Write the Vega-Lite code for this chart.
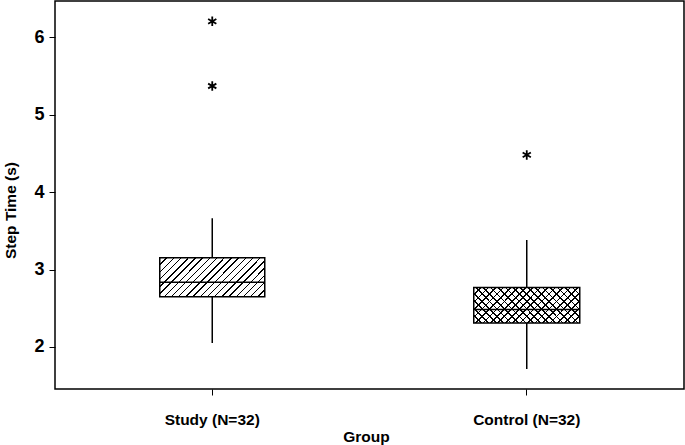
{
  "$schema": "https://vega.github.io/schema/vega-lite/v6.json",
  "width": 629,
  "height": 388,
  "autosize": {"type": "none"},
  "padding": {"left": 55, "top": 1, "right": 1, "bottom": 56},
  "background": "white",
  "config": {
    "view": {"stroke": "black", "strokeWidth": 1.5},
    "axis": {"grid": false, "domain": false, "tickColor": "black", "tickSize": 6, "tickWidth": 1, "labelColor": "black", "titleColor": "black"}
  },
  "datasets": {
    "stats": [
      {"group": "Study (N=32)", "lower": 2.052, "q1": 2.647, "median": 2.834, "q3": 3.152, "upper": 3.662},
      {"group": "Control (N=32)", "lower": 1.715, "q1": 2.311, "median": 2.484, "q3": 2.769, "upper": 3.381}
    ],
    "outliers": [
      {"group": "Study (N=32)", "value": 6.203},
      {"group": "Study (N=32)", "value": 5.368},
      {"group": "Control (N=32)", "value": 4.479}
    ]
  },
  "encoding": {
    "x": {
      "field": "group", "type": "nominal", "sort": ["Study (N=32)", "Control (N=32)"],
      "scale": {"paddingInner": 0, "paddingOuter": 0},
      "axis": {"title": "Group", "labelAngle": 0, "labelFont": "Liberation Sans", "labelFontWeight": "bold", "labelFontSize": 15.5, "labelBaseline": "alphabetic", "labelPadding": 29.5,
               "titleFont": "Liberation Sans", "titleFontWeight": "bold", "titleFontSize": 15.5, "titleX": 311, "titleY": 52.7, "titleAlign": "center", "titleBaseline": "alphabetic"}
    }
  },
  "layer": [
    {
      "data": {"name": "stats"},
      "mark": {"type": "rule", "stroke": "black", "strokeWidth": 1.5},
      "encoding": {
        "y": {"field": "lower", "type": "quantitative",
              "scale": {"domain": [1.458, 6.465], "nice": false, "zero": false},
              "axis": {"values": [2, 3, 4, 5, 6], "format": "d", "title": "Step Time (s)", "labelFont": "Liberation Sans", "labelFontWeight": "bold", "labelFontSize": 18, "labelPadding": 5,
                       "titleFont": "Liberation Sans", "titleFontWeight": "bold", "titleFontSize": 15.5, "titleAngle": -90, "titleX": -40, "titleY": 209, "titleAlign": "center", "titleBaseline": "alphabetic"}},
        "y2": {"field": "upper"}
      }
    },
    {
      "data": {"name": "stats"},
      "transform": [{"filter": "datum.group === 'Study (N=32)'"}],
      "mark": {"type": "bar", "size": 105, "stroke": "black", "strokeWidth": 1.5,
        "fill": {"gradient": "linear", "x1": 0, "y1": 0, "x2": 1.205, "y2": 0.4476, "stops": [
          {"offset": 0, "color": "#fff"},
          {"offset": 0.045, "color": "#fff"}, {"offset": 0.045, "color": "#000"}, {"offset": 0.055, "color": "#000"}, {"offset": 0.055, "color": "#fff"},
          {"offset": 0.095, "color": "#fff"}, {"offset": 0.095, "color": "#000"}, {"offset": 0.105, "color": "#000"}, {"offset": 0.105, "color": "#fff"},
          {"offset": 0.145, "color": "#fff"}, {"offset": 0.145, "color": "#000"}, {"offset": 0.155, "color": "#000"}, {"offset": 0.155, "color": "#fff"},
          {"offset": 0.195, "color": "#fff"}, {"offset": 0.195, "color": "#000"}, {"offset": 0.205, "color": "#000"}, {"offset": 0.205, "color": "#fff"},
          {"offset": 0.245, "color": "#fff"}, {"offset": 0.245, "color": "#000"}, {"offset": 0.255, "color": "#000"}, {"offset": 0.255, "color": "#fff"},
          {"offset": 0.295, "color": "#fff"}, {"offset": 0.295, "color": "#000"}, {"offset": 0.305, "color": "#000"}, {"offset": 0.305, "color": "#fff"},
          {"offset": 0.345, "color": "#fff"}, {"offset": 0.345, "color": "#000"}, {"offset": 0.355, "color": "#000"}, {"offset": 0.355, "color": "#fff"},
          {"offset": 0.395, "color": "#fff"}, {"offset": 0.395, "color": "#000"}, {"offset": 0.405, "color": "#000"}, {"offset": 0.405, "color": "#fff"},
          {"offset": 0.445, "color": "#fff"}, {"offset": 0.445, "color": "#000"}, {"offset": 0.455, "color": "#000"}, {"offset": 0.455, "color": "#fff"},
          {"offset": 0.495, "color": "#fff"}, {"offset": 0.495, "color": "#000"}, {"offset": 0.505, "color": "#000"}, {"offset": 0.505, "color": "#fff"},
          {"offset": 0.545, "color": "#fff"}, {"offset": 0.545, "color": "#000"}, {"offset": 0.555, "color": "#000"}, {"offset": 0.555, "color": "#fff"},
          {"offset": 0.595, "color": "#fff"}, {"offset": 0.595, "color": "#000"}, {"offset": 0.605, "color": "#000"}, {"offset": 0.605, "color": "#fff"},
          {"offset": 0.645, "color": "#fff"}, {"offset": 0.645, "color": "#000"}, {"offset": 0.655, "color": "#000"}, {"offset": 0.655, "color": "#fff"},
          {"offset": 0.695, "color": "#fff"}, {"offset": 0.695, "color": "#000"}, {"offset": 0.705, "color": "#000"}, {"offset": 0.705, "color": "#fff"},
          {"offset": 0.745, "color": "#fff"}, {"offset": 0.745, "color": "#000"}, {"offset": 0.755, "color": "#000"}, {"offset": 0.755, "color": "#fff"},
          {"offset": 0.795, "color": "#fff"}, {"offset": 0.795, "color": "#000"}, {"offset": 0.805, "color": "#000"}, {"offset": 0.805, "color": "#fff"},
          {"offset": 0.845, "color": "#fff"}, {"offset": 0.845, "color": "#000"}, {"offset": 0.855, "color": "#000"}, {"offset": 0.855, "color": "#fff"},
          {"offset": 0.895, "color": "#fff"}, {"offset": 0.895, "color": "#000"}, {"offset": 0.905, "color": "#000"}, {"offset": 0.905, "color": "#fff"},
          {"offset": 0.945, "color": "#fff"}, {"offset": 0.945, "color": "#000"}, {"offset": 0.955, "color": "#000"}, {"offset": 0.955, "color": "#fff"},
          {"offset": 1, "color": "#fff"}
        ]}
      },
      "encoding": {
        "y": {"field": "q1", "type": "quantitative"},
        "y2": {"field": "q3"}
      }
    },
    {
      "data": {"name": "stats"},
      "transform": [{"filter": "datum.group === 'Control (N=32)'"}],
      "mark": {"type": "bar", "size": 106, "strokeWidth": 0,
        "fill": {"gradient": "linear", "x1": 0, "y1": 0, "x2": 1.2, "y2": 0.4, "stops": [
          {"offset": 0, "color": "#fff"},
          {"offset": 0.0466, "color": "#fff"}, {"offset": 0.0466, "color": "#000"}, {"offset": 0.0586, "color": "#000"}, {"offset": 0.0586, "color": "#fff"},
          {"offset": 0.0993, "color": "#fff"}, {"offset": 0.0993, "color": "#000"}, {"offset": 0.1113, "color": "#000"}, {"offset": 0.1113, "color": "#fff"},
          {"offset": 0.1519, "color": "#fff"}, {"offset": 0.1519, "color": "#000"}, {"offset": 0.1639, "color": "#000"}, {"offset": 0.1639, "color": "#fff"},
          {"offset": 0.2045, "color": "#fff"}, {"offset": 0.2045, "color": "#000"}, {"offset": 0.2165, "color": "#000"}, {"offset": 0.2165, "color": "#fff"},
          {"offset": 0.2572, "color": "#fff"}, {"offset": 0.2572, "color": "#000"}, {"offset": 0.2692, "color": "#000"}, {"offset": 0.2692, "color": "#fff"},
          {"offset": 0.3098, "color": "#fff"}, {"offset": 0.3098, "color": "#000"}, {"offset": 0.3218, "color": "#000"}, {"offset": 0.3218, "color": "#fff"},
          {"offset": 0.3624, "color": "#fff"}, {"offset": 0.3624, "color": "#000"}, {"offset": 0.3744, "color": "#000"}, {"offset": 0.3744, "color": "#fff"},
          {"offset": 0.4151, "color": "#fff"}, {"offset": 0.4151, "color": "#000"}, {"offset": 0.4271, "color": "#000"}, {"offset": 0.4271, "color": "#fff"},
          {"offset": 0.4677, "color": "#fff"}, {"offset": 0.4677, "color": "#000"}, {"offset": 0.4797, "color": "#000"}, {"offset": 0.4797, "color": "#fff"},
          {"offset": 0.5203, "color": "#fff"}, {"offset": 0.5203, "color": "#000"}, {"offset": 0.5323, "color": "#000"}, {"offset": 0.5323, "color": "#fff"},
          {"offset": 0.5729, "color": "#fff"}, {"offset": 0.5729, "color": "#000"}, {"offset": 0.5849, "color": "#000"}, {"offset": 0.5849, "color": "#fff"},
          {"offset": 0.6256, "color": "#fff"}, {"offset": 0.6256, "color": "#000"}, {"offset": 0.6376, "color": "#000"}, {"offset": 0.6376, "color": "#fff"},
          {"offset": 0.6782, "color": "#fff"}, {"offset": 0.6782, "color": "#000"}, {"offset": 0.6902, "color": "#000"}, {"offset": 0.6902, "color": "#fff"},
          {"offset": 0.7308, "color": "#fff"}, {"offset": 0.7308, "color": "#000"}, {"offset": 0.7428, "color": "#000"}, {"offset": 0.7428, "color": "#fff"},
          {"offset": 0.7835, "color": "#fff"}, {"offset": 0.7835, "color": "#000"}, {"offset": 0.7955, "color": "#000"}, {"offset": 0.7955, "color": "#fff"},
          {"offset": 0.8361, "color": "#fff"}, {"offset": 0.8361, "color": "#000"}, {"offset": 0.8481, "color": "#000"}, {"offset": 0.8481, "color": "#fff"},
          {"offset": 0.8887, "color": "#fff"}, {"offset": 0.8887, "color": "#000"}, {"offset": 0.9007, "color": "#000"}, {"offset": 0.9007, "color": "#fff"},
          {"offset": 0.9414, "color": "#fff"}, {"offset": 0.9414, "color": "#000"}, {"offset": 0.9534, "color": "#000"}, {"offset": 0.9534, "color": "#fff"},
          {"offset": 1, "color": "#fff"}
        ]}
      },
      "encoding": {
        "y": {"field": "q1", "type": "quantitative"},
        "y2": {"field": "q3"}
      }
    },
    {
      "data": {"name": "stats"},
      "transform": [{"filter": "datum.group === 'Control (N=32)'"}],
      "mark": {"type": "bar", "size": 106, "stroke": "black", "strokeWidth": 1.5,
        "fill": {"gradient": "linear", "x1": 0, "y1": 1, "x2": 1.2, "y2": 0.6, "stops": [
          {"offset": 0, "color": "rgba(255,255,255,0)"},
          {"offset": 0.0466, "color": "rgba(255,255,255,0)"}, {"offset": 0.0466, "color": "#000"}, {"offset": 0.0586, "color": "#000"}, {"offset": 0.0586, "color": "rgba(255,255,255,0)"},
          {"offset": 0.0993, "color": "rgba(255,255,255,0)"}, {"offset": 0.0993, "color": "#000"}, {"offset": 0.1113, "color": "#000"}, {"offset": 0.1113, "color": "rgba(255,255,255,0)"},
          {"offset": 0.1519, "color": "rgba(255,255,255,0)"}, {"offset": 0.1519, "color": "#000"}, {"offset": 0.1639, "color": "#000"}, {"offset": 0.1639, "color": "rgba(255,255,255,0)"},
          {"offset": 0.2045, "color": "rgba(255,255,255,0)"}, {"offset": 0.2045, "color": "#000"}, {"offset": 0.2165, "color": "#000"}, {"offset": 0.2165, "color": "rgba(255,255,255,0)"},
          {"offset": 0.2572, "color": "rgba(255,255,255,0)"}, {"offset": 0.2572, "color": "#000"}, {"offset": 0.2692, "color": "#000"}, {"offset": 0.2692, "color": "rgba(255,255,255,0)"},
          {"offset": 0.3098, "color": "rgba(255,255,255,0)"}, {"offset": 0.3098, "color": "#000"}, {"offset": 0.3218, "color": "#000"}, {"offset": 0.3218, "color": "rgba(255,255,255,0)"},
          {"offset": 0.3624, "color": "rgba(255,255,255,0)"}, {"offset": 0.3624, "color": "#000"}, {"offset": 0.3744, "color": "#000"}, {"offset": 0.3744, "color": "rgba(255,255,255,0)"},
          {"offset": 0.4151, "color": "rgba(255,255,255,0)"}, {"offset": 0.4151, "color": "#000"}, {"offset": 0.4271, "color": "#000"}, {"offset": 0.4271, "color": "rgba(255,255,255,0)"},
          {"offset": 0.4677, "color": "rgba(255,255,255,0)"}, {"offset": 0.4677, "color": "#000"}, {"offset": 0.4797, "color": "#000"}, {"offset": 0.4797, "color": "rgba(255,255,255,0)"},
          {"offset": 0.5203, "color": "rgba(255,255,255,0)"}, {"offset": 0.5203, "color": "#000"}, {"offset": 0.5323, "color": "#000"}, {"offset": 0.5323, "color": "rgba(255,255,255,0)"},
          {"offset": 0.5729, "color": "rgba(255,255,255,0)"}, {"offset": 0.5729, "color": "#000"}, {"offset": 0.5849, "color": "#000"}, {"offset": 0.5849, "color": "rgba(255,255,255,0)"},
          {"offset": 0.6256, "color": "rgba(255,255,255,0)"}, {"offset": 0.6256, "color": "#000"}, {"offset": 0.6376, "color": "#000"}, {"offset": 0.6376, "color": "rgba(255,255,255,0)"},
          {"offset": 0.6782, "color": "rgba(255,255,255,0)"}, {"offset": 0.6782, "color": "#000"}, {"offset": 0.6902, "color": "#000"}, {"offset": 0.6902, "color": "rgba(255,255,255,0)"},
          {"offset": 0.7308, "color": "rgba(255,255,255,0)"}, {"offset": 0.7308, "color": "#000"}, {"offset": 0.7428, "color": "#000"}, {"offset": 0.7428, "color": "rgba(255,255,255,0)"},
          {"offset": 0.7835, "color": "rgba(255,255,255,0)"}, {"offset": 0.7835, "color": "#000"}, {"offset": 0.7955, "color": "#000"}, {"offset": 0.7955, "color": "rgba(255,255,255,0)"},
          {"offset": 0.8361, "color": "rgba(255,255,255,0)"}, {"offset": 0.8361, "color": "#000"}, {"offset": 0.8481, "color": "#000"}, {"offset": 0.8481, "color": "rgba(255,255,255,0)"},
          {"offset": 0.8887, "color": "rgba(255,255,255,0)"}, {"offset": 0.8887, "color": "#000"}, {"offset": 0.9007, "color": "#000"}, {"offset": 0.9007, "color": "rgba(255,255,255,0)"},
          {"offset": 0.9414, "color": "rgba(255,255,255,0)"}, {"offset": 0.9414, "color": "#000"}, {"offset": 0.9534, "color": "#000"}, {"offset": 0.9534, "color": "rgba(255,255,255,0)"},
          {"offset": 1, "color": "rgba(255,255,255,0)"}
        ]}
      },
      "encoding": {
        "y": {"field": "q1", "type": "quantitative"},
        "y2": {"field": "q3"}
      }
    },
    {
      "data": {"name": "stats"},
      "mark": {"type": "tick", "orient": "horizontal", "size": 105, "thickness": 1.5, "color": "black", "opacity": 1},
      "encoding": {
        "y": {"field": "median", "type": "quantitative"}
      }
    },
    {
      "data": {"name": "outliers"},
      "mark": {"type": "point", "shape": "M0,-1L0,1M-0.866,-0.5L0.866,0.5M-0.866,0.5L0.866,-0.5", "size": 90, "filled": false, "stroke": "black", "strokeWidth": 1.8, "opacity": 1},
      "encoding": {
        "y": {"field": "value", "type": "quantitative"}
      }
    }
  ]
}
